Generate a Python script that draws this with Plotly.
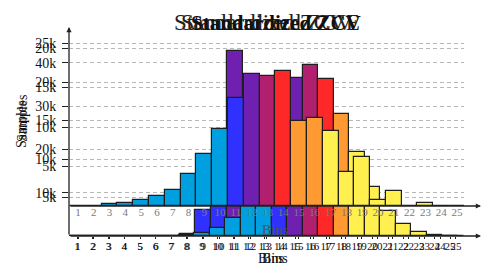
import plotly.graph_objects as go

# ---------------- data ----------------
bins = list(range(1, 26))
bin_labels = [str(b) for b in bins]

# layer drawn at the back (scale 10k..40k)
samples_back = [0, 0, 0, 0, 0, 0, 0, 460, 6000, 16200, 42800, 30000, 28900, 26600,
                23000, 18500, 12700, 8100, 3500, 1200, 0, 0, 0, 0, 0]
# middle layer (scale 5k..25k)
samples_mid = [0, 0, 0, 0, 0, 0, 0, 130, 430, 1040, 2340, 5800, 11000, 16900,
               20500, 22200, 20400, 15800, 10900, 6400, 3200, 1560, 560, 130, 0]
# front layer (raised axis, scale 5k..20k)
samples_front = [0, 0, 200, 400, 750, 1300, 2000, 4000, 6600, 9700, 13700, 16700,
                 16400, 17100, 10800, 11200, 9500, 4300, 6200, 750, 1950, 0, 400, 0, 0]

ticks_back = [10000, 20000, 30000, 40000]
ticks_mid = [5000, 10000, 15000, 20000, 25000]
ticks_front = [5000, 10000, 15000, 20000]
tick_text = lambda vals: [f"{v // 1000}k" for v in vals]

# ---------------- styles ----------------
CYAN, BLUE, PURPLE, MAG, RED, ORANGE, YELLOW = (
    "#00a0e0", "#3030ff", "#7020b0", "#b0206f", "#ff2828", "#ff9a33", "#fff050")


def palette(n_cyan, n_blue, n_orange):
    cols = [CYAN] * n_cyan + [BLUE] * n_blue + [PURPLE, MAG, RED] + [ORANGE] * n_orange
    return cols + [YELLOW] * (25 - len(cols))


col_back = palette(8, 2, 2)
col_mid = palette(13, 1, 1)
col_front = palette(10, 1, 2)

PAGE = 8                      # page body margin offset
W, H = 492 - PAGE, 280 - PAGE
PX0, PX1, PY0, PY1 = 69, 464, 34, 236   # plot area in screen pixels
L, R = PX0 - PAGE, W - (PX1 - PAGE)
T, B = PY0 - PAGE, H - (PY1 - PAGE)
PW, PH = PX1 - PX0, PY1 - PY0
FONT = "Liberation Serif"


def xrange(first_px, sp=15.79):
    return [1 - (first_px - PX0) / sp, 1 + (PX1 - first_px) / sp]


edge = dict(color="#1e1e1e", width=1.2)
fig = go.Figure()
fig.add_trace(go.Bar(x=bins, y=samples_back, width=1, marker=dict(color=col_back, line=edge),
                     xaxis="x", yaxis="y", showlegend=False))
fig.add_trace(go.Bar(x=bins, y=samples_mid, width=1, marker=dict(color=col_mid, line=edge),
                     xaxis="x2", yaxis="y2", showlegend=False))
fig.add_trace(go.Bar(x=bins, y=samples_front, width=1, marker=dict(color=col_front, line=edge),
                     xaxis="x3", yaxis="y3", showlegend=False))

grid = dict(showgrid=True, gridcolor="#b8b8b8", gridwidth=1, griddash="4px,3px",
            zeroline=False, ticks="outside", ticklen=6, tickcolor="#222", automargin=False,
            ticklabelstandoff=3,
            tickfont=dict(family=FONT, size=14, color="#111"), showline=False)
xcommon = dict(showgrid=False, zeroline=False, showline=False, tickvals=bins, ticktext=bin_labels,
               automargin=False, tickfont=dict(family=FONT, size=11, color="#111"))

front_base = 30  # px the front axis sits above the bottom axis
fig.update_layout(
    width=W, height=H, margin=dict(l=L, r=R, t=T, b=B, autoexpand=False),
    paper_bgcolor="white", plot_bgcolor="white", bargap=0,
    xaxis=dict(range=xrange(77), anchor="y", ticks="outside", ticklen=2, tickcolor="#222",
               ticklabelstandoff=-2, **xcommon),
    xaxis2=dict(range=xrange(78, 15.5), overlaying="x", anchor="y2", side="bottom",
                ticks="outside", ticklen=2, tickcolor="#222", ticklabelstandoff=-2, **xcommon),
    xaxis3=dict(range=xrange(78), overlaying="x", anchor="free", side="bottom",
                position=front_base / PH, ticklabelstandoff=-2,
                **{**xcommon, "tickfont": dict(family=FONT, size=11, color="#7a7a7a")}),
    yaxis=dict(range=[0, PH / 4.33 * 1000], tickvals=ticks_back, ticktext=tick_text(ticks_back),
               anchor="x", **grid),
    yaxis2=dict(range=[0, PH / 7.7 * 1000], tickvals=ticks_mid, ticktext=tick_text(ticks_mid),
                overlaying="y", anchor="x2", side="left", **grid),
    yaxis3=dict(range=[-front_base / 7.9 * 1000, (PH - front_base) / 7.9 * 1000],
                tickvals=ticks_front, ticktext=tick_text(ticks_front),
                overlaying="y", anchor="x3", side="left", **grid),
)


def px_x(px):
    return (px - PX0) / PW


def px_y(py):
    return (PY1 - py) / PH


ann = []
# axis lines with arrow heads
arrow = dict(text="", showarrow=True, arrowhead=2, arrowsize=0.8, arrowwidth=1.3,
             arrowcolor="#222", xref="paper", yref="paper", axref="pixel", ayref="pixel")
ann.append(dict(x=px_x(69), y=px_y(27), ax=0, ay=209, **arrow))
ann.append(dict(x=px_x(481), y=px_y(236), ax=-412, ay=0, **arrow))
ann.append(dict(x=px_x(481), y=px_y(206), ax=-412, ay=0, **arrow))

# titles (overlapping copies as in the reference)
tfont = dict(family=FONT, size=23, color="#222")
ann.append(dict(text="Standardized ZCVE", x=px_x(172), y=px_y(23), xanchor="left", yanchor="middle",
                showarrow=False, font=tfont, xref="paper", yref="paper"))
ann.append(dict(text="Standardized ZCV", x=px_x(179), y=px_y(23), xanchor="left", yanchor="middle",
                showarrow=False, font=tfont, xref="paper", yref="paper"))
ann.append(dict(text="<b>Standardized ZCV</b>", x=px_x(189), y=px_y(23), xanchor="left", yanchor="middle",
                showarrow=False, font=dict(family=FONT, size=21, color="#111"), xref="paper", yref="paper"))

# axis titles
lfont = dict(family=FONT, size=14, color="#111")
for dy in (-3, 3):
    ann.append(dict(text="Samples", x=px_x(22), y=px_y(122 + dy), textangle=-90, showarrow=False,
                    font=lfont, xref="paper", yref="paper", xanchor="center", yanchor="middle"))
for dx in (-2, 2):
    ann.append(dict(text="Bins", x=px_x(273 + dx), y=px_y(258), showarrow=False, font=lfont,
                    xref="paper", yref="paper", xanchor="center", yanchor="middle"))
ann.append(dict(text="Bins", x=px_x(275), y=px_y(230), showarrow=False,
                font=dict(family=FONT, size=14, color="#4a5260"),
                xref="paper", yref="paper", xanchor="center", yanchor="middle"))
fig.update_layout(annotations=ann)

fig.write_html("out.html")
